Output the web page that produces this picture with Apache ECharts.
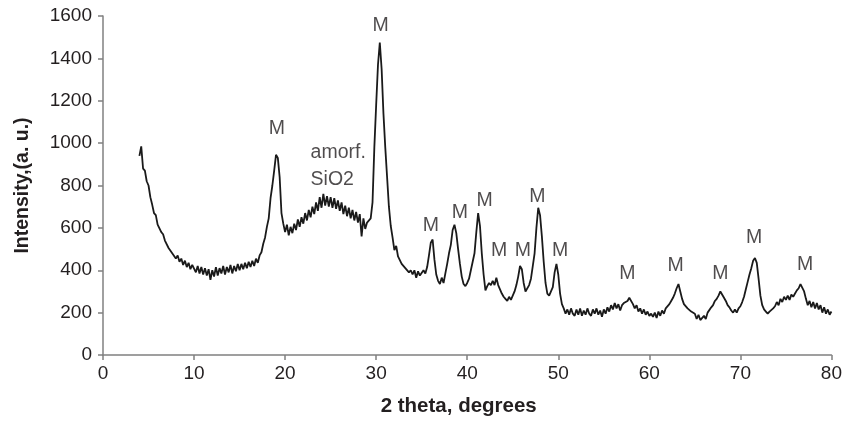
<!DOCTYPE html>
<html>
<head>
<meta charset="utf-8">
<script src="https://cdn.jsdelivr.net/npm/echarts@6/dist/echarts.min.js"></script>
<style>
html,body{margin:0;padding:0;background:#fff;}
#chart{width:845px;height:422px;}
</style>
</head>
<body>
<div id="chart"></div>
<script>
// Measurement grid: 2-theta from 4.0 to 80.0 in 0.2 degree steps
const startAngle = 4.0;
const stepAngle = 0.2;

// Intensities (a.u.), in 5-degree blocks
const int_04_10 = [940, 985, 880, 870, 820, 800, 745, 710, 670, 660, 615, 610, 580, 570, 540, 535, 505, 510, 480, 485, 455, 470, 440, 455, 425, 445, 415, 435, 405, 425];
const int_10_15 = [425, 390, 420, 385, 415, 380, 410, 375, 405, 355, 400, 370, 415, 375, 410, 385, 420, 380, 415, 390, 425, 385, 420, 395, 430];
const int_15_20 = [400, 430, 405, 435, 410, 440, 415, 445, 420, 455, 435, 470, 485, 525, 555, 605, 645, 740, 800, 870, 945, 930, 840, 670, 620];
const int_20_25 = [580, 615, 565, 605, 575, 620, 590, 640, 605, 650, 620, 670, 635, 685, 650, 700, 665, 720, 680, 745, 695, 760, 705, 750, 700];
const int_25_30 = [745, 695, 740, 690, 730, 680, 720, 665, 705, 655, 695, 645, 685, 635, 675, 625, 665, 560, 645, 595, 625, 630, 645, 720, 980];
const int_30_35 = [1180, 1370, 1475, 1350, 1140, 980, 840, 700, 610, 555, 495, 515, 465, 460, 430, 430, 410, 405, 390, 400, 380, 400, 365, 395, 375];
const int_35_40 = [375, 400, 385, 415, 470, 530, 545, 450, 380, 350, 335, 365, 340, 385, 430, 480, 520, 590, 615, 575, 500, 430, 370, 335, 325];
const int_40_45 = [340, 360, 400, 440, 480, 580, 670, 610, 480, 380, 305, 325, 340, 330, 350, 330, 365, 330, 310, 290, 275, 265, 255, 275, 260];
const int_45_50 = [280, 300, 330, 370, 420, 405, 340, 300, 300, 330, 360, 420, 480, 600, 695, 660, 560, 440, 340, 290, 280, 300, 320, 390, 430];
const int_50_55 = [380, 290, 240, 220, 195, 215, 190, 220, 195, 185, 215, 190, 220, 185, 210, 190, 220, 195, 185, 215, 195, 220, 190, 210, 180];
const int_55_60 = [215, 195, 225, 205, 235, 215, 245, 220, 240, 210, 235, 245, 250, 255, 270, 265, 240, 220, 235, 205, 220, 195, 215, 190, 205];
const int_60_65 = [185, 195, 180, 200, 175, 205, 185, 210, 195, 220, 225, 240, 255, 270, 290, 315, 335, 300, 265, 240, 235, 220, 215, 205, 200];
const int_65_70 = [195, 170, 190, 165, 160, 185, 170, 200, 205, 225, 235, 255, 265, 280, 300, 295, 270, 255, 235, 225, 210, 200, 215, 200, 220];
const int_70_75 = [230, 250, 275, 310, 345, 380, 410, 445, 458, 435, 360, 280, 235, 215, 205, 195, 205, 200, 220, 230, 250, 235, 265, 250, 275];
const int_75_80 = [260, 280, 260, 285, 275, 290, 305, 315, 335, 340, 300, 265, 235, 255, 225, 250, 220, 245, 215, 235, 200, 225, 195, 215, 190, 205];

// Peak annotations (label anchor in data coordinates)
const peakLabelText = ['M','M','M','M','M','M','M','M','M','M','M','M','M','M'];
const peakLabelX = [19.1, 30.5, 36.0, 39.2, 41.9, 43.5, 46.1, 47.7, 50.2, 57.6, 62.9, 67.8, 71.5, 77.1];
const peakLabelY = [1070, 1555, 609, 670, 730, 493, 493, 749, 493, 386, 423, 386, 553, 428];
const amorfText = 'amorf.\nSiO2';
const amorfX = 22.8;
const amorfY = 893;

// Axis settings
const xTicks = {min: 0, max: 80, interval: 10};
const yTicks = {min: 0, max: 1600, interval: 200};
const xTitle = '2 theta, degrees';
const yTitle = 'Intensity,(a. u.)';

const intensity = [].concat(int_04_10, int_10_15, int_15_20, int_20_25, int_25_30, int_30_35,
  int_35_40, int_40_45, int_45_50, int_50_55, int_55_60, int_60_65, int_65_70, int_70_75, int_75_80);
const lineData = intensity.map((v, i) => [+(startAngle + i * stepAngle).toFixed(2), v]);
const labelData = peakLabelX.map((x, i) => ({value: [x, peakLabelY[i]], name: peakLabelText[i]}));

const FONT = 'Liberation Sans, Arial, Helvetica, sans-serif';
const TXT = '#231f20';
const axisCommon = {
  type: 'value',
  splitLine: {show: false},
  axisLine: {show: true, onZero: false, lineStyle: {color: '#808080', width: 1.5}},
  axisTick: {show: true, inside: false, length: 5, lineStyle: {color: '#808080', width: 1.5}}
};

const chart = echarts.init(document.getElementById('chart'), null, {renderer: 'canvas'});
chart.setOption({
  animation: false,
  backgroundColor: '#ffffff',
  grid: {left: 103, right: 13, top: 16, bottom: 62, containLabel: false},
  xAxis: Object.assign({}, axisCommon, {
    min: xTicks.min, max: xTicks.max, interval: xTicks.interval,
    name: xTitle, nameLocation: 'middle', nameGap: 41,
    nameTextStyle: {fontFamily: FONT, fontWeight: 'bold', fontSize: 20.5, color: TXT, padding: [0, 17, 0, 0]},
    axisLabel: {margin: 9, fontFamily: FONT, fontSize: 19, color: TXT, formatter: v => String(v)}
  }),
  yAxis: Object.assign({}, axisCommon, {
    min: yTicks.min, max: yTicks.max, interval: yTicks.interval,
    name: yTitle, nameLocation: 'middle', nameGap: 70, nameRotate: 90,
    nameTextStyle: {fontFamily: FONT, fontWeight: 'bold', fontSize: 19.5, color: TXT},
    axisLabel: {margin: 11, fontFamily: FONT, fontSize: 19, color: TXT, formatter: v => String(v)}
  }),
  series: [
    {
      type: 'line',
      data: lineData,
      showSymbol: false,
      symbol: 'none',
      sampling: null,
      lineStyle: {color: '#1a1a1a', width: 1.8},
      silent: true
    },
    {
      type: 'scatter',
      data: labelData,
      symbolSize: 0,
      silent: true,
      label: {
        show: true, position: 'inside', formatter: p => p.name,
        fontFamily: FONT, fontSize: 19.5, color: TXT
      }
    },
    {
      type: 'scatter',
      data: [{value: [amorfX, amorfY], name: amorfText}],
      symbolSize: 0,
      silent: true,
      label: {
        show: true, position: 'inside', align: 'left', formatter: p => p.name,
        fontFamily: FONT, fontSize: 19.5, lineHeight: 27, color: TXT
      }
    }
  ]
});
</script>
</body>
</html>
